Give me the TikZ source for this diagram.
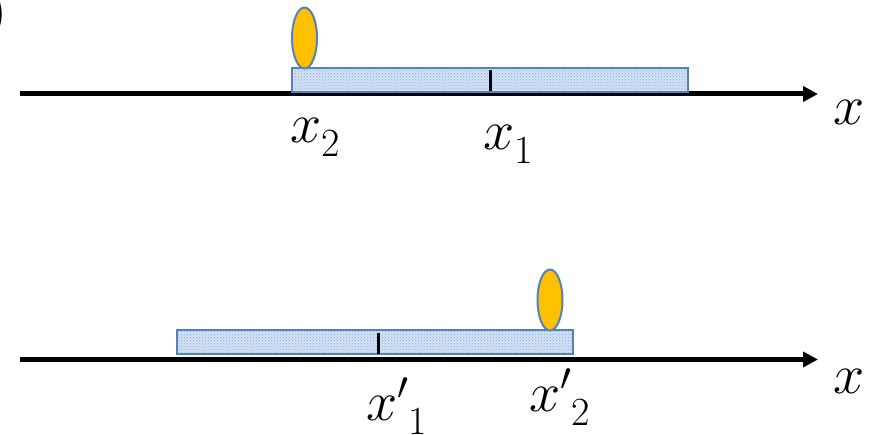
\RequirePackage{fix-cm}
\documentclass[tikz,border=0pt]{standalone}
\usetikzlibrary{arrows.meta,shapes.geometric,patterns}
\definecolor{barfill}{RGB}{210,225,244}
\definecolor{bardots}{RGB}{140,176,222}
\definecolor{barline}{RGB}{84,130,185}
\definecolor{ballfill}{RGB}{255,192,0}
\newcommand{\xsub}[1]{$x$\raisebox{-14pt}{\fontsize{40}{44}\selectfont #1}}
\newcommand{\xpsub}[1]{$x'$\raisebox{-14pt}{\fontsize{40}{44}\selectfont #1}}
\begin{document}
\begin{tikzpicture}[x=1pt,y=-1pt,
  axis/.style={line width=5pt,-{Triangle[length=15pt,width=15pt]}},
  bar/.style={rectangle,draw=barline,line width=2pt,inner sep=0pt,
    preaction={fill=barfill},pattern=crosshatch dots,pattern color=bardots,
    minimum width=396pt,minimum height=24pt},
  ball/.style={ellipse,draw=barline,line width=2pt,fill=ballfill,inner sep=0pt,
    minimum width=25pt,minimum height=61pt},
  tick/.style={line width=3pt},
  lbl/.style={anchor=base west,inner sep=0pt,font=\fontsize{56}{68}\selectfont}]
\clip (0,0) rectangle (877,435);
% fragment of the panel mark, cut by the page edge
\node[anchor=base east,inner sep=0pt,font=\fontsize{60}{72}\selectfont\bfseries] (mark) at (9,30) {)};
% upper panel
\coordinate (a0) at (20,94);
\coordinate (a1) at (818,94);
\draw[axis] (a0) -- (a1);
\node[bar] (bara) at (489.5,80.5) {};
\coordinate (ta0) at (490,70);
\coordinate (ta1) at (490,91);
\draw[tick] (ta0) -- (ta1);
\node[ball] (balla) at (304.5,38) {};
\node[lbl] (xa2) at (290,143) {\xsub{2}};
\node[lbl] (xa1) at (483,150) {\xsub{1}};
\node[lbl] (xa) at (833,125) {$x$};
% lower panel
\coordinate (b0) at (20,359.5);
\coordinate (b1) at (818,359.5);
\draw[axis] (b0) -- (b1);
\node[bar] (barb) at (375,342) {};
\coordinate (tb0) at (378,333);
\coordinate (tb1) at (378,354);
\draw[tick] (tb0) -- (tb1);
\node[ball] (ballb) at (550,300) {};
\node[lbl] (xb1) at (366,420) {\xpsub{1}};
\node[lbl] (xb2) at (529,411) {\xpsub{2}};
\node[lbl] (xb) at (833,393) {$x$};
\end{tikzpicture}
\end{document}
